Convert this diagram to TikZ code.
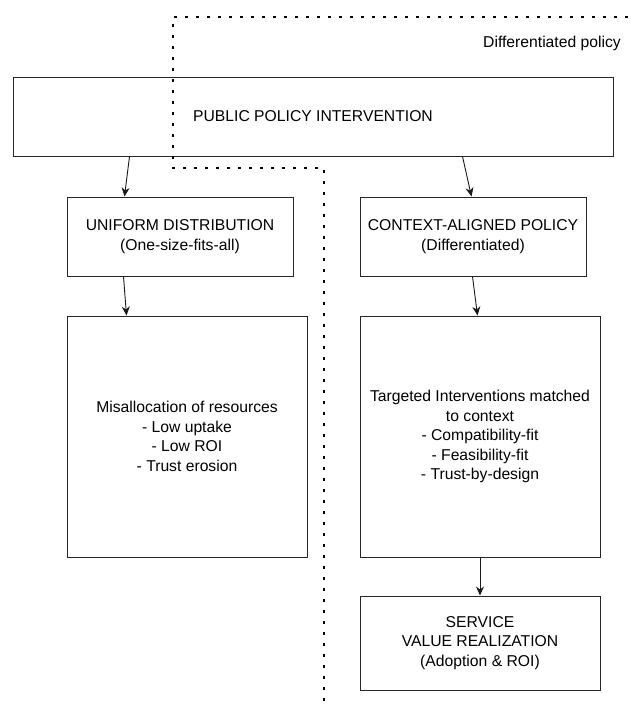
\documentclass[tikz,border=0pt]{standalone}
\usepackage{fontspec}
\setmainfont{Liberation Sans}
\usetikzlibrary{arrows.meta}

\begin{document}
\begin{tikzpicture}[x=1pt, y=-1pt,
    box/.style={draw=black!85, line width=1pt, inner sep=0pt, align=center, font=\fontsize{15.7}{19.5}\selectfont},
    arr/.style={draw=black!90, line width=0.9pt, -{Stealth[length=9pt, width=8pt]}},
    split/.style={line width=2.6pt, dash pattern=on 2.6pt off 8.4pt}]
	\useasboundingbox (0,0) rectangle (630,713);
	\node[box, minimum width=600pt, minimum height=79pt] (policy) at (313,116.5) {PUBLIC POLICY INTERVENTION};
    \node[box, minimum width=226pt, minimum height=79pt] (uniform) at (180,236.5) {UNIFORM DISTRIBUTION\\(One-size-fits-all)};
    \node[box, minimum width=226pt, minimum height=79pt] (context) at (473,236.5) {CONTEXT-ALIGNED POLICY\\(Differentiated)};
    \node[box, minimum width=240pt, minimum height=241pt] (misalloc) at (187,436.5) {Misallocation of resources\\- Low uptake\\- Low ROI\\- Trust erosion};
    \node[box, minimum width=240pt, minimum height=241pt] (targeted) at (480,436.5) {Targeted Interventions matched\\to context\\- Compatibility-fit\\- Feasibility-fit\\- Trust-by-design};
    \node[box, minimum width=240pt, minimum height=94pt] (service) at (480,643) {SERVICE\\VALUE REALIZATION\\(Adoption \& ROI)};
    \draw[arr] ([xshift=117pt]policy.south west) -- ([xshift=58pt]uniform.north west);
    \draw[arr] ([xshift=57pt]uniform.south west) -- ([xshift=60pt]misalloc.north west);
    \draw[arr] ([xshift=450pt]policy.south west) -- ([xshift=112pt]context.north west);
    \draw[arr] ([xshift=113pt]context.south west) -- ([xshift=118pt]targeted.north west);
    \draw[arr] (targeted.south) -- (service.north);
	%dotted split between the two branches
    \draw[split] (628,17) -- (173,17) -- (173,168) -- (324,168) -- (324,704);
    \node[font=\fontsize{15.7}{19.5}\selectfont, anchor=east, inner sep=0pt] (difflabel) at (621,43) {Differentiated policy};
\end{tikzpicture}
\end{document}
